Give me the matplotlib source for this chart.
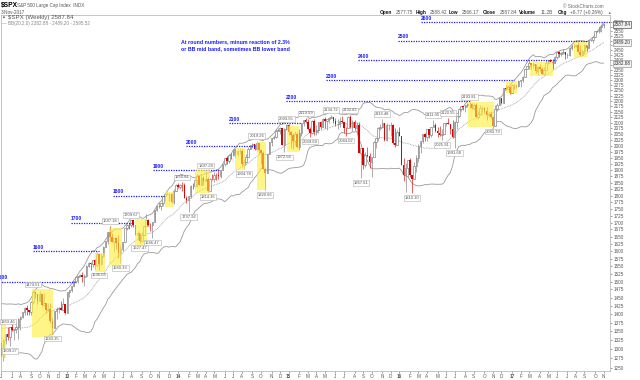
import matplotlib
matplotlib.use('Agg')
import matplotlib.pyplot as plt
import matplotlib.dates as mdates
from matplotlib.patches import Rectangle
from matplotlib.ticker import FixedLocator, NullLocator, FuncFormatter
import numpy as np
import pandas as pd

plt.rcParams['font.family'] = ['Liberation Sans', 'DejaVu Sans']

# Weekly closes Jan-May 2012, only used to warm up the Bollinger bands
warmup_close = [1277.81, 1289.09, 1315.38, 1316.33, 1344.90, 1342.64, 1361.23, 1365.74,
                1369.63, 1370.87, 1404.17, 1397.11, 1408.47, 1398.08, 1370.26, 1378.53,
                1403.36, 1369.10, 1353.39, 1295.22, 1317.82]

first_week = '2012-06-01'

# Weekly bars (Friday), Jun 2012 - Nov 2017
close_2012 = [1278.04, 1325.66, 1342.84, 1335.02, 1362.16, 1354.68, 1356.78, 1362.66, 1385.97, 1390.99,
              1405.87, 1418.16, 1411.13, 1406.58, 1437.92, 1465.77, 1460.15, 1440.67, 1460.93, 1428.59,
              1433.19, 1411.94, 1414.20, 1379.85, 1359.88, 1409.15, 1416.18, 1418.07, 1413.58, 1430.15, 1402.43]
high_2012 = [1334.9, 1329.1, 1343.3, 1363.46, 1362.2, 1374.8, 1357.0, 1380.4, 1389.2, 1394.2,
             1407.1, 1420.0, 1426.7, 1413.5, 1438.0, 1474.51, 1467.1, 1460.7, 1471.0, 1461.5,
             1464.0, 1433.8, 1434.3, 1433.4, 1388.8, 1409.2, 1420.0, 1420.9, 1438.6, 1448.0, 1430.2]
low_2012 = [1277.3, 1266.7, 1315.0, 1324.4, 1309.27, 1351.3, 1325.4, 1345.1, 1329.2, 1354.6,
            1389.0, 1397.7, 1398.0, 1397.0, 1396.6, 1430.0, 1449.9, 1430.5, 1439.0, 1425.5,
            1428.3, 1403.3, 1410.0, 1373.0, 1343.35, 1358.0, 1385.4, 1403.3, 1411.6, 1413.5, 1401.6]

close_2013 = [1466.47, 1472.05, 1485.98, 1502.96, 1513.17, 1517.93, 1519.79, 1515.60, 1518.20, 1551.18,
              1560.70, 1556.89, 1569.19, 1553.28, 1588.85, 1555.25, 1582.24, 1614.42, 1633.70, 1667.47,
              1649.60, 1630.74, 1643.38, 1626.73, 1592.43, 1606.28, 1631.89, 1680.19, 1692.09, 1691.65,
              1709.67, 1691.42, 1655.83, 1663.50, 1632.97, 1655.17, 1687.99, 1709.91, 1691.75, 1690.50,
              1703.20, 1744.50, 1759.77, 1761.64, 1770.61, 1798.18, 1804.76, 1805.81, 1805.09, 1775.32,
              1818.32, 1841.40]
high_2013 = [1467.9, 1472.3, 1486.0, 1503.3, 1514.4, 1518.3, 1524.7, 1530.9, 1525.8, 1552.5,
             1563.6, 1563.0, 1570.3, 1573.7, 1597.4, 1588.8, 1592.6, 1618.5, 1635.0, 1667.5,
             1687.18, 1661.0, 1646.7, 1648.7, 1654.2, 1620.1, 1632.1, 1680.2, 1693.1, 1698.8,
             1709.67, 1709.2, 1691.5, 1669.2, 1664.0, 1664.8, 1689.0, 1729.9, 1711.8, 1698.6,
             1703.4, 1745.3, 1759.8, 1775.2, 1771.1, 1798.2, 1804.8, 1813.6, 1808.4, 1809.0,
             1823.8, 1844.9]
low_2013 = [1402.4, 1451.6, 1465.7, 1485.0, 1496.3, 1495.0, 1514.0, 1497.3, 1485.0, 1514.0,
            1547.4, 1538.6, 1546.2, 1539.5, 1548.0, 1536.03, 1553.3, 1581.3, 1614.2, 1624.7,
            1635.5, 1630.7, 1598.2, 1608.1, 1577.7, 1560.33, 1601.1, 1631.9, 1674.6, 1676.0,
            1684.4, 1684.3, 1654.2, 1639.4, 1627.47, 1633.4, 1655.2, 1686.0, 1687.1, 1670.4,
            1646.47, 1700.4, 1740.5, 1752.7, 1746.2, 1760.6, 1780.9, 1800.9, 1779.2, 1772.3,
            1767.99, 1818.3]

close_2014 = [1831.37, 1842.37, 1838.70, 1790.29, 1782.59, 1797.02, 1838.63, 1836.25, 1859.45, 1878.04,
              1841.13, 1866.52, 1857.62, 1865.09, 1815.69, 1864.85, 1863.40, 1881.14, 1878.48, 1877.86,
              1900.53, 1923.57, 1949.44, 1936.16, 1962.87, 1960.96, 1985.44, 1967.57, 1978.22, 1978.34,
              1925.15, 1931.59, 1955.06, 1988.40, 2003.37, 2007.71, 1985.54, 2010.40, 1982.85, 1967.90,
              1906.13, 1886.76, 1964.58, 2018.05, 2031.92, 2039.82, 2063.50, 2067.56, 2075.37, 2002.33,
              2070.65, 2088.77]
high_2014 = [1849.4, 1843.2, 1850.84, 1849.3, 1798.8, 1798.0, 1841.7, 1847.5, 1867.9, 1883.6,
             1877.9, 1884.0, 1875.2, 1897.28, 1872.5, 1869.6, 1884.9, 1891.3, 1889.1, 1902.2,
             1901.3, 1924.0, 1949.4, 1955.6, 1963.9, 1968.2, 1985.6, 1985.6, 1983.9, 1991.4,
             1984.9, 1942.9, 1964.0, 1994.8, 2005.0, 2011.2, 2007.7, 2019.26, 2009.1, 1986.0,
             1977.8, 1912.0, 1965.3, 2018.2, 2034.3, 2046.2, 2071.5, 2075.8, 2079.5, 2075.8,
             2077.9, 2093.55]
low_2014 = [1827.7, 1823.7, 1815.5, 1790.3, 1770.5, 1737.92, 1791.8, 1825.3, 1836.8, 1834.4,
            1839.6, 1839.9, 1842.1, 1858.6, 1814.36, 1815.8, 1859.7, 1850.6, 1859.8, 1862.4,
            1868.1, 1900.5, 1915.98, 1925.8, 1930.1, 1944.7, 1958.2, 1952.9, 1955.6, 1965.8,
            1916.4, 1904.78, 1928.3, 1955.2, 1988.3, 1990.1, 1983.8, 1978.5, 1965.0, 1926.0,
            1905.0, 1820.66, 1886.8, 1964.6, 2001.0, 2030.2, 2034.5, 2064.0, 2049.6, 2002.3,
            1972.56, 2069.3]

close_2015 = [2058.20, 2044.81, 2019.42, 2051.82, 1994.99, 2055.47, 2096.99, 2110.30, 2104.50, 2071.26,
              2053.40, 2108.10, 2061.02, 2066.96, 2102.06, 2081.18, 2117.69, 2108.29, 2116.10, 2122.73,
              2126.06, 2107.39, 2092.83, 2094.11, 2109.99, 2101.49, 2076.78, 2076.62, 2126.64, 2079.65,
              2103.84, 2077.57, 2091.54, 1970.89, 1988.87, 1921.22, 1961.05, 1958.08, 1931.34, 1951.36,
              2014.89, 2033.11, 2075.15, 2079.36, 2099.20, 2023.04, 2089.17, 2090.11, 2091.69, 2012.37,
              2005.55, 2060.99, 2043.94]
high_2015 = [2093.0, 2064.4, 2056.0, 2064.6, 2057.6, 2072.4, 2097.0, 2110.6, 2119.59, 2117.5,
             2079.5, 2113.9, 2114.9, 2089.8, 2102.6, 2107.6, 2120.9, 2125.9, 2117.7, 2123.9,
             2134.72, 2126.2, 2121.9, 2115.0, 2126.7, 2130.0, 2102.7, 2081.1, 2128.5, 2132.82,
             2110.6, 2112.7, 2105.4, 2102.7, 1989.6, 1989.0, 1975.0, 1993.0, 1968.0, 1951.4,
             2020.9, 2033.5, 2079.7, 2094.3, 2116.48, 2093.8, 2097.1, 2094.1, 2104.3, 2093.8,
             2076.7, 2067.0, 2081.6]
low_2015 = [2046.0, 1992.4, 1988.1, 2004.5, 1989.2, 1980.9, 2041.9, 2085.4, 2098.0, 2067.3,
            2039.69, 2050.4, 2045.5, 2048.4, 2057.1, 2072.4, 2091.1, 2077.3, 2067.9, 2099.2,
            2122.5, 2098.8, 2085.7, 2072.1, 2083.1, 2100.0, 2056.3, 2044.02, 2079.3, 2077.1,
            2063.5, 2067.9, 2052.1, 1970.9, 1867.61, 1903.1, 1911.0, 1953.6, 1908.8, 1871.9,
            1951.4, 1990.7, 2022.3, 2070.3, 2076.3, 2022.0, 2019.4, 2066.7, 2042.4, 2008.1,
            1993.3, 2005.9, 2043.6]

close_2016 = [1922.03, 1880.33, 1906.90, 1940.24, 1880.05, 1864.78, 1917.78, 1948.05, 1999.99, 2022.19,
              2049.58, 2035.94, 2072.78, 2047.60, 2080.73, 2091.58, 2065.30, 2057.14, 2046.61, 2052.32,
              2099.06, 2099.13, 2096.07, 2071.22, 2037.41, 2102.95, 2129.90, 2161.74, 2175.03, 2173.60,
              2182.87, 2184.05, 2183.87, 2169.04, 2179.98, 2127.81, 2139.16, 2164.69, 2168.27, 2153.74,
              2132.98, 2141.16, 2126.41, 2085.18, 2164.45, 2181.90, 2213.35, 2191.95, 2259.53, 2258.07,
              2263.79, 2238.83]
high_2016 = [2038.2, 1950.3, 1927.0, 1940.2, 1947.2, 1881.6, 1930.7, 1962.96, 2009.1, 2022.4,
             2052.4, 2056.6, 2074.0, 2072.2, 2083.2, 2111.05, 2099.9, 2083.4, 2084.9, 2071.9,
             2100.0, 2102.5, 2120.55, 2096.1, 2113.3, 2108.7, 2131.7, 2169.1, 2175.6, 2177.1,
             2183.0, 2188.5, 2193.81, 2187.9, 2187.9, 2187.9, 2153.6, 2179.0, 2175.3, 2169.6,
             2169.6, 2149.2, 2154.8, 2131.5, 2182.3, 2189.9, 2213.4, 2214.1, 2259.8, 2277.5,
             2273.8, 2272.6]
low_2016 = [1918.5, 1857.8, 1812.3, 1872.7, 1872.7, 1810.10, 1864.8, 1891.0, 1931.8, 1969.3,
            2010.4, 2022.5, 2022.5, 2033.8, 2039.7, 2080.7, 2059.3, 2039.5, 2043.1, 2025.91,
            2052.3, 2085.3, 2093.1, 2050.4, 2032.1, 1991.68, 2074.0, 2126.8, 2154.2, 2155.7,
            2147.6, 2169.3, 2168.9, 2160.4, 2157.1, 2127.8, 2119.1, 2139.2, 2145.0, 2142.6,
            2114.7, 2124.4, 2122.3, 2083.79, 2084.1, 2151.8, 2182.3, 2187.4, 2192.0, 2253.1,
            2254.5, 2233.6]

close_2017 = [2276.98, 2274.64, 2271.31, 2294.69, 2297.42, 2316.10, 2351.16, 2367.34, 2383.12, 2372.60,
              2378.25, 2343.98, 2362.72, 2355.54, 2328.95, 2348.69, 2384.20, 2399.29, 2390.90, 2381.73,
              2415.82, 2439.07, 2431.77, 2433.15, 2438.30, 2423.41, 2425.18, 2459.27, 2472.54, 2472.10,
              2476.83, 2441.32, 2425.55, 2443.05, 2476.55, 2461.43, 2500.23, 2502.22, 2519.36, 2549.33,
              2553.17, 2575.21, 2581.07, 2587.84]
high_2017 = [2282.1, 2279.3, 2276.2, 2301.0, 2299.4, 2319.2, 2351.3, 2368.3, 2401.0, 2383.9,
             2390.0, 2379.8, 2370.3, 2378.4, 2364.2, 2361.4, 2398.2, 2399.3, 2403.9, 2405.8,
             2418.7, 2440.2, 2446.2, 2441.8, 2453.8, 2441.0, 2432.7, 2463.5, 2479.1, 2484.0,
             2477.8, 2490.9, 2474.9, 2454.8, 2480.4, 2474.5, 2500.2, 2508.9, 2519.4, 2552.5,
             2557.6, 2575.4, 2583.0, 2588.4]
low_2017 = [2238.8, 2254.3, 2258.4, 2263.3, 2267.2, 2288.5, 2313.4, 2352.9, 2355.4, 2354.5,
            2359.2, 2335.4, 2322.25, 2344.7, 2328.5, 2322.25, 2348.7, 2379.8, 2387.2, 2352.7,
            2381.7, 2405.7, 2415.7, 2419.4, 2430.0, 2405.7, 2407.7, 2419.1, 2452.0, 2459.9,
            2464.8, 2437.8, 2417.4, 2417.35, 2428.2, 2446.6, 2474.5, 2496.3, 2488.0, 2520.4,
            2545.2, 2542.7, 2544.0, 2566.2]

# Round-number levels (blue dotted lines) and where they are drawn
levels = [1500, 1600, 1700, 1800, 1900, 2000, 2100, 2200, 2300, 2400, 2500, 2600]
level_start = ['2012-05-17', '2012-09-13', '2013-01-16', '2013-06-03', '2013-10-12', '2014-01-29',
               '2014-06-20', '2014-12-24', '2015-05-04', '2015-08-18', '2015-12-28', '2016-03-12']
level_end = ['2013-02-01', '2013-04-18', '2013-08-08', '2013-11-18', '2014-05-18', '2014-09-16',
             '2015-02-11', '2016-08-24', '2017-01-12', '2017-05-30', '2017-09-13', '2017-12-31']

# Yellow highlight boxes (date range, price range)
box_start = ['2012-05-20', '2012-09-11', '2013-04-05', '2013-05-21', '2013-08-15', '2013-11-21',
             '2014-02-28', '2014-07-09', '2014-09-20', '2014-12-27', '2016-08-14', '2016-12-17',
             '2017-03-06', '2017-07-29']
box_end = ['2012-06-16', '2012-11-18', '2013-05-08', '2013-07-03', '2013-09-23', '2013-12-21',
           '2014-04-18', '2014-08-10', '2014-10-19', '2015-02-05', '2016-11-07', '2017-01-22',
           '2017-05-20', '2017-09-09']
box_low = [1275, 1333, 1531, 1554, 1618, 1757, 1810, 1900, 1821, 1974, 2081, 2237, 2319, 2414]
box_high = [1379, 1477, 1594, 1680, 1713, 1814, 1900, 1991, 2016, 2086, 2195, 2294, 2389, 2492]

# Swing high / low value labels
swing_dates = ['2012-06-22', '2012-06-29', '2012-09-14', '2012-11-16', '2013-04-19', '2013-05-24',
               '2013-06-28', '2013-08-02', '2013-08-30', '2013-10-11', '2014-01-17', '2014-02-07',
               '2014-04-04', '2014-04-11', '2014-08-08', '2014-09-19', '2014-10-17', '2014-12-19',
               '2014-12-26', '2015-02-27', '2015-03-13', '2015-05-22', '2015-07-10', '2015-07-24',
               '2015-08-28', '2015-11-06', '2016-02-12', '2016-04-22', '2016-05-20', '2016-06-10',
               '2016-07-01', '2016-08-19', '2016-11-04']
swing_values = [1363.46, 1309.27, 1474.51, 1343.35, 1536.03, 1687.18, 1560.33, 1709.67, 1627.47,
                1646.47, 1850.84, 1737.92, 1897.28, 1814.36, 1904.78, 2019.26, 1820.66, 1972.56,
                2093.55, 2119.59, 2039.69, 2134.72, 2044.02, 2132.82, 1867.61, 2116.48, 1810.10,
                2111.05, 2025.91, 2120.55, 1991.68, 2193.81, 2083.79]
swing_side = ['h', 'l', 'h', 'l', 'l', 'h', 'l', 'h', 'l', 'l', 'h', 'l', 'h', 'l', 'l', 'h', 'l',
              'l', 'h', 'h', 'l', 'h', 'l', 'h', 'l', 'h', 'l', 'h', 'l', 'h', 'l', 'h', 'l']

bb_last = [2382.88, 2489.20, 2595.52]
last_close = 2587.84

# Build the series
close = np.array(close_2012 + close_2013 + close_2014 + close_2015 + close_2016 + close_2017)
high = np.array(high_2012 + high_2013 + high_2014 + high_2015 + high_2016 + high_2017)
low = np.array(low_2012 + low_2013 + low_2014 + low_2015 + low_2016 + low_2017)
n = len(close)
assert len(high) == n and len(low) == n, (n, len(high), len(low))
dates = pd.date_range(first_week, periods=n, freq='7D')
opens = np.concatenate([[warmup_close[-1]], close[:-1]])

# Bollinger bands (20, 2.0)
all_dates = pd.date_range(end=dates[-1], periods=len(warmup_close) + n, freq='7D')
all_close = pd.Series(warmup_close + list(close), index=all_dates)
bb_mid = all_close.rolling(20).mean()
bb_sd = all_close.rolling(20).std(ddof=0)
bb_up = bb_mid + 2 * bb_sd
bb_lo = bb_mid - 2 * bb_sd

fig = plt.figure(figsize=(6.4, 3.8), dpi=100)
ax = fig.add_axes([1 / 640, 9 / 380, 609 / 640, 356 / 380])
ax.set_yscale('log')

# bands
ax.plot(all_dates, bb_up, color='#9a9a9a', lw=0.6, zorder=1)
ax.plot(all_dates, bb_lo, color='#9a9a9a', lw=0.6, zorder=1)
ax.plot(all_dates, bb_mid, color='#9a9a9a', lw=0.6, ls=(0, (1, 1)), zorder=1)

# candles
up = close >= opens
body_lo = np.minimum(opens, close)
body_hi = np.maximum(opens, close)
wick_lo = np.minimum(low, body_lo)
wick_hi = np.maximum(high, body_hi)
ax.vlines(dates[up], wick_lo[up], wick_hi[up], color='#8a8a8a', lw=0.5, zorder=2)
ax.vlines(dates[~up], wick_lo[~up], wick_hi[~up], color='#e02020', lw=0.5, zorder=2)
ax.bar(dates[up], (body_hi - body_lo)[up], bottom=body_lo[up], width=5,
       facecolor='white', edgecolor='#7a7a7a', linewidth=0.45, zorder=3)
ax.bar(dates[~up], (body_hi - body_lo)[~up], bottom=body_lo[~up], width=5,
       color='#dd0000', linewidth=0, zorder=3)

# round number lines
for lv, s, e in zip(levels, level_start, level_end):
    xs, xe = mdates.date2num(pd.Timestamp(s)), mdates.date2num(pd.Timestamp(e))
    ax.hlines(lv, xs, xe, colors='#1c1cff', linestyles=(0, (1, 1)), lw=0.9, zorder=4)
    ax.annotate(str(lv), (xs, lv), xytext=(0, 0.8), textcoords='offset points',
                ha='left', va='bottom', fontsize=3.6, fontweight='bold', color='#1c1cff',
                annotation_clip=False, zorder=7)

# yellow boxes
for s, e, lo, hi in zip(box_start, box_end, box_low, box_high):
    xs, xe = mdates.date2num(pd.Timestamp(s)), mdates.date2num(pd.Timestamp(e))
    ax.add_patch(Rectangle((xs, lo), xe - xs, hi - lo, facecolor='#fff03c', alpha=0.62,
                           lw=0, zorder=5))

# swing labels
for d, v, side in zip(swing_dates, swing_values, swing_side):
    dy = 2.2 if side == 'h' else -2.2
    ax.annotate(f'{v:.2f}', (mdates.date2num(pd.Timestamp(d)), v), xytext=(0, dy),
                textcoords='offset points', ha='center', va='bottom' if side == 'h' else 'top',
                fontsize=3.0, color='#555555', zorder=8, annotation_clip=False,
                bbox=dict(boxstyle='square,pad=0.2', fc='white', ec='#b0b0b0', lw=0.4))

ax.text(0.2956, 0.933, 'At round numbers, minum reaction of 2.3%\nor BB mid band, sometimes BB lower band',
        transform=ax.transAxes, ha='left', va='top', fontsize=3.8, fontweight='bold',
        color='#1c1cff', linespacing=1.45, zorder=9)

# axes
ax.set_xlim(pd.Timestamp('2012-05-31'), pd.Timestamp('2012-05-31') + pd.Timedelta(days=2003))
ax.set_ylim(1241, 2639)
ax.yaxis.set_major_locator(FixedLocator(np.arange(1250, 2601, 25)))
ax.yaxis.set_minor_locator(NullLocator())
ax.yaxis.set_major_formatter(FuncFormatter(lambda v, p: f'{v:.0f}'))
ax.yaxis.tick_right()
ax.tick_params(axis='y', labelsize=3.3, length=1.2, width=0.4, pad=1.2, colors='#555555')

month_first = pd.Series(dates).groupby([dates.year, dates.month]).first()
ax.set_xticks(mdates.date2num(month_first.values))
ax.set_xticklabels([str(d.year % 100) if d.month == 1 else 'JFMAMJJASOND'[d.month - 1]
                    for d in month_first])
for lab, d in zip(ax.get_xticklabels(), month_first):
    if d.month == 1:
        lab.set_fontweight('bold')
        lab.set_color('#222222')
ax.tick_params(axis='x', labelsize=3.3, length=1.2, width=0.4, pad=1.0, colors='#555555')
for sp in ax.spines.values():
    sp.set_color('#bbbbbb')
    sp.set_linewidth(0.6)

# right-hand value tags, drawn over the tick labels like the original
for v, ec in [(last_close, '#555555'), (bb_last[1], '#999999'), (bb_last[0], '#999999')]:
    ax.annotate(f'{v:.2f}', (1, v), xycoords=('axes fraction', 'data'), xytext=(2.5, 0),
                textcoords='offset points', ha='left', va='center', fontsize=3.3, color='#333333',
                annotation_clip=False, zorder=9,
                bbox=dict(boxstyle='square,pad=0.2', fc='#f2f2f2', ec=ec, lw=0.5))

# header
def px(x, y):
    return x / 640, 1 - y / 380

fig.text(*px(1, 5), '$SPX', fontsize=4.8, fontweight='bold', va='center', ha='left')
fig.text(*px(17, 5), 'S&P 500 Large Cap Index  INDX', fontsize=3.3, color='#555555', va='center')
fig.text(*px(1, 12), '3-Nov-2017', fontsize=3.3, color='#555555', va='center')
fig.text(*px(563, 6), '\u00a9 StockCharts.com', fontsize=3.3, color='#666666', va='center')
hdr = [(380, 'Open', True), (396, '2577.75', False), (416, 'High', True), (430, '2588.42', False),
       (449, 'Low', True), (462, '2566.17', False), (483, 'Close', True), (500, '2587.84', False),
       (519, 'Volume', True), (541, '11.2B', False), (558, 'Chg', True), (570, '+6.77 (+0.26%)', False)]
for x, t, b in hdr:
    fig.text(*px(x, 12.5), t, fontsize=3.4, fontweight='bold' if b else 'normal',
             color='#111111' if b else '#555555', va='center')
fig.text(*px(607, 12.5), '\u25b2', fontsize=2.6, color='#2a9a2a', va='center')

# legend
fig.text(*px(3, 17.5), '\u25aa', fontsize=4, color='#333333', va='center')
fig.text(*px(8, 17.5), '$SPX (Weekly) 2587.84', fontsize=4.4, color='#555555', va='center')
fig.text(*px(2, 24), '\u2014', fontsize=3.3, color='#888888', va='center')
fig.text(*px(8, 24), 'BB(20,2.0) 2382.88 - 2489.20 - 2595.52', fontsize=3.3, color='#888888', va='center')

fig.savefig('out.png', dpi=100)
